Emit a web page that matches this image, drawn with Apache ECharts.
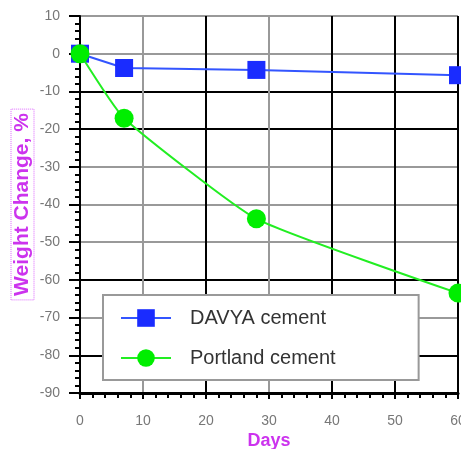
<!DOCTYPE html>
<html><head><meta charset="utf-8">
<script src="https://cdn.jsdelivr.net/npm/echarts@6/dist/echarts.min.js"></script>
<style>html,body{margin:0;padding:0;background:#fff}#c{width:461px;height:449px}</style>
</head><body><div id="c"></div>
<script>
const days = [0, 7, 28, 60];
const davya = [0, -3.8, -4.3, -5.7];
const portland = [0, -17.1, -43.8, -63.5];
const seriesNames = ['DAVYA cement', 'Portland cement'];
const xTicks = [0, 10, 20, 30, 40, 50, 60];
const yTicks = [10, 0, -10, -20, -30, -40, -50, -60, -70, -80, -90];

const chart = echarts.init(document.getElementById('c'), null, {renderer: 'canvas'});
const magenta = '#cc33ee';
const labelColor = '#777';
const font = 'Liberation Sans, Arial, sans-serif';
chart.setOption({
  animation: false,
  backgroundColor: '#fff',
  grid: {left: 80, right: 3, top: 16, bottom: 56, containLabel: false, outerBoundsMode: 'none'},
  legend: {
    orient: 'vertical', left: 103, top: 295,
    padding: [12, 83, 11, 17], itemGap: 18, itemWidth: 50, itemHeight: 22,
    backgroundColor: '#fff', borderColor: '#999', borderWidth: 2,
    textStyle: {fontFamily: font, fontSize: 20, lineHeight: 22, color: '#333', padding: [0, 0, 0, 14]},
    data: seriesNames
  },
  xAxis: {
    type: 'value', min: xTicks[0], max: xTicks[xTicks.length - 1], interval: 10,
    name: 'Days', nameLocation: 'middle', nameGap: 39, nameMoveOverlap: false,
    nameTextStyle: {color: magenta, fontWeight: 'bold', fontSize: 18, fontFamily: font},
    axisLine: {show: true, onZero: false, lineStyle: {color: '#000', width: 3}},
    axisTick: {show: true, length: 6, lineStyle: {color: '#000', width: 2}},
    minorTick: {show: true, splitNumber: 5, length: 5, lineStyle: {color: '#000', width: 2}},
    axisLabel: {color: labelColor, fontSize: 14, fontFamily: font, margin: 21},
    splitLine: {show: true, lineStyle: {color: ['#000', '#999', '#000', '#999', '#000', '#000', '#000'], width: 2}}
  },
  yAxis: {
    type: 'value', min: yTicks[yTicks.length - 1], max: yTicks[0], interval: 10,
    name: 'Weight Change, %', nameLocation: 'middle', nameGap: 46, nameRotate: 90, nameMoveOverlap: false,
    nameTextStyle: {color: magenta, fontWeight: 'bold', fontSize: 21, fontFamily: font,
      borderColor: '#dd66ff', borderWidth: 1, borderType: 'dotted', padding: [1, 4, 1, 4]},
    axisLine: {show: true, lineStyle: {color: '#000', width: 2}},
    axisTick: {show: true, length: 11, lineStyle: {color: '#000', width: 2}},
    minorTick: {show: true, splitNumber: 5, length: 5, lineStyle: {color: '#000', width: 2}},
    axisLabel: {color: labelColor, fontSize: 14, fontFamily: font, margin: 20},
    splitLine: {show: true, lineStyle: {color: ['#000', '#000', '#999', '#000', '#999', '#999', '#999', '#000', '#000', '#999', '#999'], width: 2}}
  },
  series: [
    {
      name: seriesNames[0], type: 'line', data: days.map((d, i) => [d, davya[i]]),
      symbol: 'rect', symbolSize: 18, color: '#1a2cff',
      lineStyle: {color: '#3355ff', width: 2}, itemStyle: {color: '#1a2cff'}, z: 3
    },
    {
      name: seriesNames[1], type: 'line', data: days.map((d, i) => [d, portland[i]]),
      symbol: 'circle', symbolSize: 19, smooth: 0.15, color: '#00ee00',
      lineStyle: {color: '#22ee22', width: 2}, itemStyle: {color: '#00ee00'}, z: 4
    }
  ]
});
</script></body></html>
